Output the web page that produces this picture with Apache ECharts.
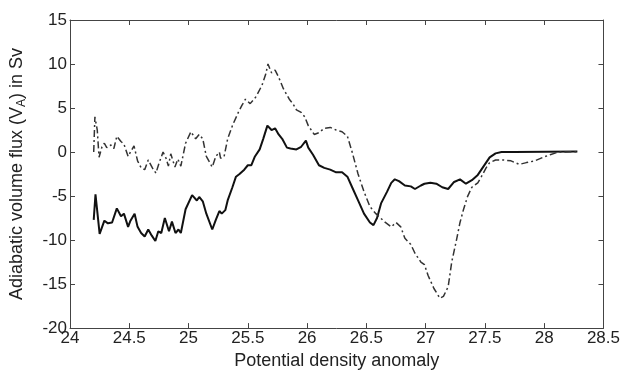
<!DOCTYPE html>
<html>
<head>
<meta charset="utf-8">
<script src="https://cdn.jsdelivr.net/npm/echarts@6/dist/echarts.min.js"></script>
<style>
  html, body { margin: 0; padding: 0; background: #fff; }
  #chart { width: 623px; height: 375px; }
</style>
</head>
<body>
<div id="chart"></div>
<script>
// solid curve
const solidX = [24.20, 24.215, 24.25, 24.29, 24.32, 24.355, 24.395, 24.43, 24.455, 24.49, 24.51, 24.545,
  24.57, 24.60, 24.63, 24.66, 24.69, 24.72, 24.745, 24.77, 24.80, 24.835, 24.86, 24.89, 24.915, 24.935,
  24.975, 25.03, 25.07, 25.09, 25.12, 25.15, 25.20, 25.23, 25.26, 25.28, 25.31, 25.33, 25.37, 25.40,
  25.43, 25.47, 25.50, 25.53, 25.56, 25.60, 25.63, 25.665, 25.70, 25.73, 25.76, 25.79, 25.83, 25.86,
  25.91, 25.95, 25.99, 26.01, 26.05, 26.10, 26.145, 26.195, 26.245, 26.295, 26.34, 26.38, 26.43, 26.48,
  26.53, 26.56, 26.59, 26.625, 26.675, 26.71, 26.74, 26.775, 26.825, 26.875, 26.91, 26.96, 26.99, 27.04,
  27.09, 27.14, 27.19, 27.24, 27.29, 27.34, 27.355, 27.39, 27.44, 27.47, 27.51, 27.54, 27.59, 27.64,
  27.75, 28.28];
const solidY = [-7.7, -4.8, -9.3, -7.8, -8.1, -8.0, -6.4, -7.3, -7.0, -8.5, -7.8, -7.0,
  -8.5, -9.2, -9.6, -8.8, -9.5, -10.1, -9.0, -9.2, -7.5, -9.0, -7.9, -9.2, -8.8, -9.2,
  -6.5, -4.9, -5.5, -5.1, -5.6, -7.0, -8.8, -7.7, -6.7, -7.0, -6.6, -5.5, -4.0, -2.8,
  -2.5, -2.0, -1.5, -1.5, -0.5, 0.3, 1.5, 3.0, 2.5, 2.7, 2.0, 1.5, 0.5, 0.4,
  0.3, 0.6, 1.3, 0.5, -0.3, -1.5, -1.8, -2.0, -2.3, -2.3, -2.8, -4.0, -5.5, -7.0,
  -8.0, -8.3, -7.5, -5.8, -4.5, -3.5, -3.1, -3.3, -3.8, -3.9, -4.2, -3.8, -3.6, -3.5,
  -3.6, -4.0, -4.2, -3.4, -3.1, -3.6, -3.8, -3.2, -2.6, -2.0, -1.2, -0.6, -0.15, 0,
  0, 0.05];

// dash-dot curve
const dashX = [24.20, 24.21, 24.23, 24.245, 24.27, 24.29, 24.31, 24.345, 24.37, 24.395, 24.43, 24.455,
  24.49, 24.51, 24.54, 24.57, 24.60, 24.63, 24.66, 24.695, 24.725, 24.75, 24.785, 24.81, 24.83, 24.85,
  24.885, 24.91, 24.935, 24.975, 25.02, 25.06, 25.09, 25.12, 25.15, 25.20, 25.23, 25.26, 25.27, 25.30,
  25.33, 25.37, 25.42, 25.45, 25.48, 25.52, 25.57, 25.62, 25.65, 25.67, 25.70, 25.73, 25.76, 25.80,
  25.85, 25.88, 25.91, 25.95, 25.98, 26.01, 26.06, 26.10, 26.145, 26.195, 26.245, 26.295, 26.34, 26.38,
  26.43, 26.48, 26.53, 26.58, 26.62, 26.66, 26.71, 26.75, 26.79, 26.825, 26.875, 26.91, 26.96, 26.99,
  27.02, 27.07, 27.12, 27.15, 27.19, 27.22, 27.26, 27.29, 27.32, 27.355, 27.39, 27.44, 27.47, 27.51,
  27.54, 27.59, 27.655, 27.72, 27.79, 27.85, 27.92, 27.99, 28.05, 28.12, 28.28];
const dashY = [0, 4.0, 2.5, -0.6, 0.6, 1.0, 0.5, 0.8, 0.4, 1.8, 1.2, 0.9,
  -0.5, 0, 0.7, -1.0, -1.8, -2.0, -0.9, -1.8, -2.4, -1.3, 0, -0.7, -1.6, -0.2,
  -1.7, -0.8, -1.6, 1.0, 2.3, 1.5, 2.0, 1.5, -0.5, -1.7, -0.5, 0, -0.7, -0.5,
  1.5, 3.0, 4.5, 5.3, 6.0, 5.5, 6.3, 7.6, 8.8, 10.0, 9.0, 9.3, 8.5, 7.2,
  6.0, 5.5, 4.8, 4.5, 4.0, 3.0, 2.0, 2.2, 2.7, 2.8, 2.5, 2.3, 1.8, 0,
  -2.5, -4.5, -6.2, -7.0, -7.5, -8.0, -8.5, -8.0, -8.5, -9.8, -10.5, -11.5, -12.5, -12.8,
  -14.0, -15.5, -16.6, -16.4, -15.3, -12.5, -10.0, -8.0, -6.5, -5.0, -4.0, -3.5, -2.8, -1.8,
  -1.2, -0.9, -0.9, -1.0, -1.4, -1.2, -1.0, -0.6, -0.3, 0, 0.05];

const xTicks = { min: 24, max: 28.5, interval: 0.5 };
const yTicks = { min: -20, max: 15, interval: 5 };

const font = "'Liberation Sans', Arial, sans-serif";
const axisColor = "#444";

const chart = echarts.init(document.getElementById("chart"), null, { renderer: "canvas" });

const baseAxis = {
  axisLine: { show: true, onZero: false, lineStyle: { color: axisColor, width: 1 } },
  axisTick: { show: true, inside: true, length: 5, lineStyle: { color: axisColor } },
  splitLine: { show: false },
};

chart.setOption({
  animation: false,
  backgroundColor: "#fff",
  grid: { left: 67, right: 16, top: 20, bottom: 36, containLabel: false },
  xAxis: [
    {
      ...baseAxis,
      type: "value",
      ...xTicks,
      name: "Potential density anomaly",
      nameLocation: "middle",
      nameGap: 17,
      nameTextStyle: { fontFamily: font, fontSize: 18, color: "#222" },
      axisLabel: { fontFamily: font, fontSize: 17, color: "#222", margin: 2 },
    },
    {
      ...baseAxis,
      type: "value",
      ...xTicks,
      position: "top",
      axisLabel: { show: false },
    },
  ],
  yAxis: [
    {
      ...baseAxis,
      type: "value",
      ...yTicks,
      name: "Adiabatic volume flux (V{sub|A}) in Sv",
      nameLocation: "middle",
      nameGap: 42,
      nameTextStyle: {
        fontFamily: font, fontSize: 18, color: "#222",
        rich: { sub: { fontFamily: font, fontSize: 12, color: "#222", padding: [10, 0, 0, 0] } },
      },
      axisLabel: { fontFamily: font, fontSize: 17, color: "#222", margin: 3 },
    },
    {
      ...baseAxis,
      type: "value",
      ...yTicks,
      position: "right",
      axisLabel: { show: false },
    },
  ],
  series: [
    {
      type: "line",
      data: solidX.map((x, i) => [x, solidY[i]]),
      showSymbol: false,
      lineStyle: { color: "#111", width: 2 },
    },
    {
      type: "line",
      data: dashX.map((x, i) => [x, dashY[i]]),
      showSymbol: false,
      lineStyle: { color: "#333", width: 1.5, type: [7, 3, 2, 3] },
    },
  ],
});
</script>
</body>
</html>
